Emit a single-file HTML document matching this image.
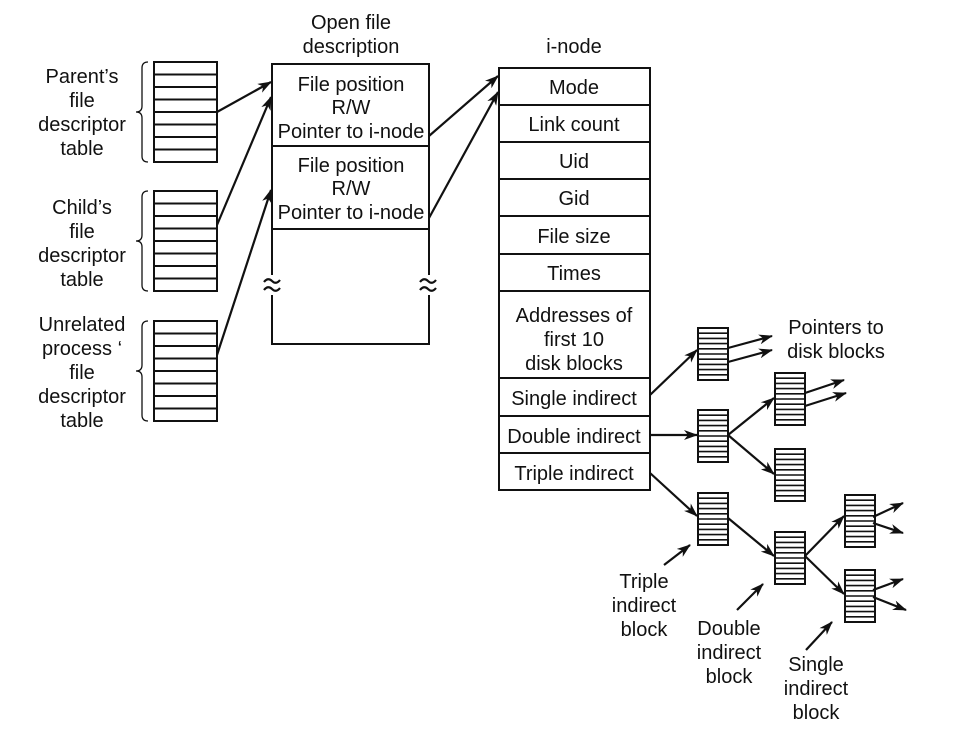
<!DOCTYPE html>
<html><head><style>body{margin:0;background:#fff}svg{display:block}text{font-family:"Liberation Sans",sans-serif;font-size:20px;fill:#111;text-anchor:middle}</style></head><body>
<svg width="976" height="730" viewBox="0 0 976 730" xmlns="http://www.w3.org/2000/svg">
<defs>
<marker id="a" markerWidth="14" markerHeight="10" refX="13" refY="5" orient="auto" markerUnits="userSpaceOnUse"><path d="M0,0 L14,5 L0,10 L4,5 Z" fill="#111"/></marker>
<g id="tbl" stroke="#111" stroke-width="2" fill="none"><rect x="0" y="0" width="63" height="100"/><path d="M0,12.5H63M0,25H63M0,37.5H63M0,50H63M0,62.5H63M0,75H63M0,87.5H63"/></g>
<g id="blk" stroke="#111" stroke-width="2" fill="none"><rect x="0" y="0" width="30" height="52"/><path d="M0,5.2H30M0,10.4H30M0,15.6H30M0,20.8H30M0,26H30M0,31.2H30M0,36.4H30M0,41.6H30M0,46.8H30" stroke-width="1.6"/></g>
<path id="br" d="M8,0 Q2,0 2,6 L2,44 Q2,50 -4,50 Q2,50 2,56 L2,94 Q2,100 8,100" fill="none" stroke="#111" stroke-width="1.3"/>
<path id="wv" d="M0,4 Q4,-1 8,3 T16,2 M0,12 Q4,7 8,11 T16,10" fill="none" stroke="#111" stroke-width="2.2"/>
</defs>
<use href="#tbl" x="154" y="62"/><use href="#tbl" x="154" y="191"/><use href="#tbl" x="154" y="321"/>
<use href="#br" x="140" y="62"/><use href="#br" x="140" y="191"/><use href="#br" x="140" y="321"/>
<text x="82" y="83">Parent’s</text><text x="82" y="107">file</text><text x="82" y="131">descriptor</text><text x="82" y="155">table</text>
<text x="82" y="214">Child’s</text><text x="82" y="238">file</text><text x="82" y="262">descriptor</text><text x="82" y="286">table</text>
<text x="82" y="331">Unrelated</text><text x="82" y="355">process ‘</text><text x="82" y="379">file</text><text x="82" y="403">descriptor</text><text x="82" y="427">table</text>
<text x="351" y="29">Open file</text><text x="351" y="53">description</text>
<g stroke="#111" stroke-width="2" fill="none"><rect x="272" y="64" width="157" height="280"/><path d="M272,146H429M272,229H429"/></g>
<text x="351" y="91">File position</text><text x="351" y="114">R/W</text><text x="351" y="138">Pointer to i-node</text>
<text x="351" y="172">File position</text><text x="351" y="195">R/W</text><text x="351" y="219">Pointer to i-node</text>
<rect x="262" y="275" width="20" height="20" fill="#fff"/><rect x="418" y="275" width="20" height="20" fill="#fff"/>
<use href="#wv" x="264" y="278"/><use href="#wv" x="420" y="278"/>
<g stroke="#111" stroke-width="2.2" fill="none" marker-end="url(#a)">
<path d="M217,112 L271,82"/><path d="M217,225 L271,97"/><path d="M217,355 L271,190"/>
<path d="M429,136 L498,76"/><path d="M429,218 L498,92"/>
</g>
<text x="574" y="53">i-node</text>
<g stroke="#111" stroke-width="2" fill="none"><rect x="499" y="68" width="151" height="422"/><path d="M499,105H650M499,142H650M499,179H650M499,216H650M499,254H650M499,291H650M499,378H650M499,416H650M499,453H650"/></g>
<text x="574" y="94">Mode</text><text x="574" y="131">Link count</text><text x="574" y="168">Uid</text><text x="574" y="205">Gid</text><text x="574" y="243">File size</text><text x="574" y="280">Times</text>
<text x="574" y="322">Addresses of</text><text x="574" y="346">first 10</text><text x="574" y="370">disk blocks</text>
<text x="574" y="405">Single indirect</text><text x="574" y="443">Double indirect</text><text x="574" y="480">Triple indirect</text>
<use href="#blk" x="698" y="328"/><use href="#blk" x="698" y="410"/><use href="#blk" x="775" y="373"/><use href="#blk" x="775" y="449"/>
<use href="#blk" x="698" y="493"/><use href="#blk" x="775" y="532"/><use href="#blk" x="845" y="495"/><use href="#blk" x="845" y="570"/>
<text x="836" y="334">Pointers to</text><text x="836" y="358">disk blocks</text>
<g stroke="#111" stroke-width="2.2" fill="none" marker-end="url(#a)">
<path d="M650,395 L697,350"/><path d="M728,348 L772,336"/><path d="M728,362 L772,350"/>
<path d="M650,435 L697,435"/><path d="M728,435 L774,398"/><path d="M728,435 L774,474"/>
<path d="M805,393 L844,380"/><path d="M805,406 L846,393"/>
<path d="M650,473 L697,516"/><path d="M728,518 L774,556"/><path d="M805,556 L844,516"/><path d="M805,556 L844,594"/>
<path d="M873,517 L903,503"/><path d="M873,523 L903,533"/><path d="M873,590 L903,579"/><path d="M873,597 L906,610"/>
<path d="M664,565 L690,545"/><path d="M737,610 L763,584"/><path d="M806,650 L832,622"/>
</g>
<text x="644" y="588">Triple</text><text x="644" y="612">indirect</text><text x="644" y="636">block</text>
<text x="729" y="635">Double</text><text x="729" y="659">indirect</text><text x="729" y="683">block</text>
<text x="816" y="671">Single</text><text x="816" y="695">indirect</text><text x="816" y="719">block</text>
</svg>
</body></html>
